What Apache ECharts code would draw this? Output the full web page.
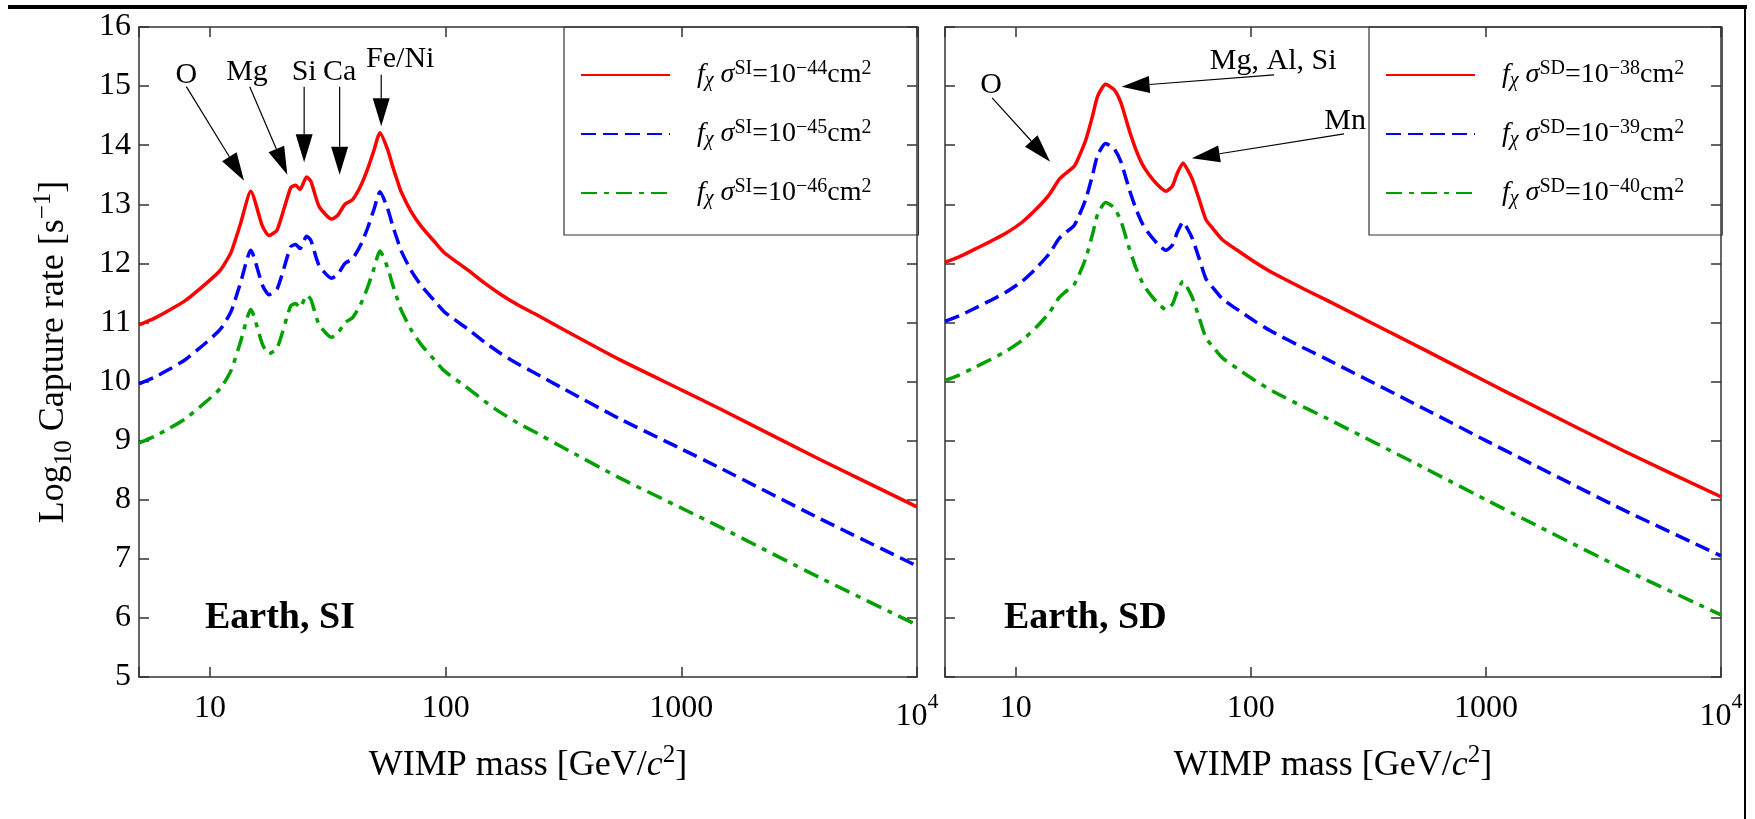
<!DOCTYPE html>
<html>
<head>
<meta charset="utf-8">
<script src="https://cdn.jsdelivr.net/npm/echarts@6/dist/echarts.min.js"></script>
<style>html,body{margin:0;padding:0;background:#fff}#c{width:1755px;height:819px}</style>
</head>
<body>
<div id="c"></div>
<script>
// ---------- DATA ----------
// Left panel: Earth, SI  (WIMP mass in GeV/c^2, log10 capture rate)
const siMass  = [5, 5.8, 6.6, 7.8, 9.7, 11.1, 12.3, 13.5, 14.9, 16.7, 17.8, 19.3, 22.0, 23.1, 24.1, 25.7, 26.8, 29.0, 32.8, 34.8, 37.4, 40.3, 43.6, 46.6, 49.8, 51.4, 52.6, 56.7, 59.6, 62.5, 64.6, 71.3, 78.6, 89.5, 98.7, 124, 146, 172, 202, 238, 316, 547, 1000, 1456, 3873, 10000];
const siRed   = [10.96, 11.07, 11.19, 11.36, 11.67, 11.89, 12.19, 12.68, 13.22, 12.63, 12.47, 12.57, 13.28, 13.32, 13.25, 13.46, 13.39, 12.97, 12.75, 12.81, 13.00, 13.08, 13.31, 13.59, 13.93, 14.12, 14.21, 13.93, 13.64, 13.39, 13.22, 12.88, 12.63, 12.37, 12.18, 11.89, 11.67, 11.47, 11.30, 11.15, 10.88, 10.37, 9.86, 9.54, 8.68, 7.88];
const siBlue  = [9.96, 10.07, 10.19, 10.36, 10.67, 10.89, 11.19, 11.68, 12.22, 11.63, 11.47, 11.57, 12.28, 12.32, 12.25, 12.46, 12.39, 11.97, 11.75, 11.81, 12.00, 12.08, 12.31, 12.59, 12.93, 13.12, 13.21, 12.93, 12.64, 12.39, 12.22, 11.88, 11.63, 11.37, 11.18, 10.89, 10.67, 10.47, 10.30, 10.15, 9.88, 9.37, 8.86, 8.54, 7.68, 6.88];
const siGreen = [8.96, 9.07, 9.19, 9.36, 9.67, 9.89, 10.19, 10.68, 11.22, 10.63, 10.47, 10.57, 11.28, 11.32, 11.25, 11.46, 11.39, 10.97, 10.75, 10.81, 11.00, 11.08, 11.31, 11.59, 11.93, 12.12, 12.21, 11.93, 11.64, 11.39, 11.22, 10.88, 10.63, 10.37, 10.18, 9.89, 9.67, 9.47, 9.30, 9.15, 8.88, 8.37, 7.86, 7.54, 6.68, 5.88];

// Right panel: Earth, SD
const sdMass  = [5, 5.74, 6.54, 7.70, 9.07, 10.67, 12.16, 13.86, 15.28, 16.06, 17.7, 18.6, 19.9, 21.2, 22.3, 24.1, 26.2, 28.0, 30.3, 32.4, 34.6, 36.9, 40.1, 43.5, 46.4, 48.7, 51.5, 53.7, 56.4, 60.3, 64.4, 68.6, 75.7, 89.1, 105, 123.6, 171.4, 205, 546, 1000, 1456, 3882, 10000];
const sdRed   = [12.02, 12.11, 12.22, 12.36, 12.51, 12.70, 12.91, 13.16, 13.42, 13.50, 13.64, 13.81, 14.10, 14.49, 14.83, 15.03, 14.94, 14.72, 14.27, 13.93, 13.67, 13.50, 13.33, 13.22, 13.31, 13.53, 13.70, 13.59, 13.42, 13.08, 12.74, 12.60, 12.40, 12.20, 12.01, 11.84, 11.55, 11.40, 10.54, 10.00, 9.67, 8.82, 8.05];
const sdBlue  = [11.02, 11.11, 11.22, 11.36, 11.51, 11.70, 11.91, 12.16, 12.42, 12.50, 12.64, 12.81, 13.10, 13.49, 13.83, 14.03, 13.94, 13.72, 13.27, 12.93, 12.67, 12.50, 12.33, 12.22, 12.31, 12.53, 12.70, 12.59, 12.42, 12.08, 11.74, 11.60, 11.40, 11.20, 11.01, 10.84, 10.55, 10.40, 9.54, 9.00, 8.67, 7.82, 7.05];
const sdGreen = [10.02, 10.11, 10.22, 10.36, 10.51, 10.70, 10.91, 11.16, 11.42, 11.50, 11.64, 11.81, 12.10, 12.49, 12.83, 13.03, 12.94, 12.72, 12.27, 11.93, 11.67, 11.50, 11.33, 11.22, 11.31, 11.53, 11.70, 11.59, 11.42, 11.08, 10.74, 10.60, 10.40, 10.20, 10.01, 9.84, 9.55, 9.40, 8.54, 8.00, 7.67, 6.82, 6.05];

// Axis ticks
const xTickValues = [10, 100, 1000, 10000];
const xTickLabels = ['{m|10}', '{m|100}', '{m|1000}', '{n|10}{sup|4}'];
const yMin = 5, yMax = 16, yStep = 1;

// Legend labels (exponents)
const siNames = ['si44', 'si45', 'si46'];
const siExp   = ['−44', '−45', '−46'];
const sdNames = ['sd38', 'sd39', 'sd40'];
const sdExp   = ['−38', '−39', '−40'];

// Annotations: text, label anchor, arrow start, arrow tip (mass, log rate)
const siNoteText  = ['O', 'Mg', 'Si', 'Ca', 'Fe/Ni'];
const siNoteLabel = [[7.94, 15.19], [14.36, 15.23], [25.1, 15.23], [35.5, 15.23], [64.2, 15.46]];
const siNoteFrom  = [[7.94, 14.99], [14.75, 14.99], [25.1, 14.99], [35.5, 14.99], [53.3, 15.19]];
const siNoteTo    = [[13.95, 13.40], [21.3, 13.50], [25.1, 13.71], [35.5, 13.50], [53.3, 14.32]];
const sdNoteText  = ['O', 'Mg, Al, Si', 'Mn'];
const sdNoteLabel = [[7.85, 15.01], [124.5, 15.42], [252, 14.40]];
const sdNoteFrom  = [[7.93, 14.80], [125.6, 15.19], [249, 14.19]];
const sdNoteTo    = [[14.0, 13.72], [28.2, 14.99], [56.1, 13.78]];

// ---------- CHART ----------
const FONT = '"Liberation Serif", "DejaVu Serif", serif';
const RED = '#ff0000', BLUE = '#0000ff', GREEN = '#00a000';
const AX = '#333333';
const DASH = [15, 7];
const DASHDOT = [16, 7, 5, 7];

function pairs(xs, ys) { return xs.map((x, i) => [x, ys[i]]); }

function lineSeries(name, xs, ys, color, type, gi) {
  return {
    name: name, type: 'line', xAxisIndex: gi * 2, yAxisIndex: gi * 2,
    data: pairs(xs, ys), symbol: 'none', showSymbol: false, smooth: 0.2,
    lineStyle: { color: color, width: 3.5, type: type, cap: 'butt' },
    itemStyle: { color: color }, z: 3, silent: true, animation: false
  };
}

function noteSeries(gi, text, lab, from, to) {
  const data = text.map((t, i) => [lab[i][0], lab[i][1], from[i][0], from[i][1], to[i][0], to[i][1]]);
  return {
    type: 'custom', xAxisIndex: gi * 2, yAxisIndex: gi * 2, silent: true, animation: false, z: 5,
    encode: { x: [0, 2, 4], y: [1, 3, 5] },
    data: data,
    renderItem: function (params, api) {
      const i = params.dataIndex;
      const L = api.coord([api.value(0), api.value(1)]);
      const F = api.coord([api.value(2), api.value(3)]);
      const T = api.coord([api.value(4), api.value(5)]);
      const dx = T[0] - F[0], dy = T[1] - F[1];
      const len = Math.hypot(dx, dy) || 1;
      const ux = dx / len, uy = dy / len;
      const headLen = 28, hw = 8.5;
      const B = [T[0] - ux * headLen, T[1] - uy * headLen];
      const p1 = [B[0] - uy * hw, B[1] + ux * hw];
      const p2 = [B[0] + uy * hw, B[1] - ux * hw];
      return {
        type: 'group',
        children: [
          { type: 'line', shape: { x1: F[0], y1: F[1], x2: B[0], y2: B[1] }, style: { stroke: '#000', lineWidth: 1.2 } },
          { type: 'polygon', shape: { points: [T, p1, p2] }, style: { fill: '#000' } },
          { type: 'text', x: L[0], y: L[1], style: { text: text[i], fill: '#000', fontSize: 30, fontFamily: FONT, align: 'center', verticalAlign: 'middle' } }
        ]
      };
    }
  };
}

const tickLbl = {
  fontSize: 32, fontFamily: FONT, color: '#000', margin: 14,
  rich: {
    m: { fontSize: 32, fontFamily: FONT, lineHeight: 34, verticalAlign: 'bottom', color: '#000' },
    n: { fontSize: 32, fontFamily: FONT, lineHeight: 42, verticalAlign: 'bottom', color: '#000' },
    sup: { fontSize: 22, fontFamily: FONT, lineHeight: 42, verticalAlign: 'top', color: '#000' }
  },
  formatter: function (v) {
    for (let k = 0; k < xTickValues.length; k++) {
      if (Math.abs(Math.log10(v) - Math.log10(xTickValues[k])) < 1e-6) return xTickLabels[k];
    }
    return '';
  },
  hideOverlap: false
};

const nameRich = {
  n: { fontSize: 36, fontFamily: FONT, lineHeight: 46, verticalAlign: 'middle', color: '#000' },
  i: { fontSize: 36, fontFamily: FONT, fontStyle: 'italic', lineHeight: 46, verticalAlign: 'middle', color: '#000' },
  sub: { fontSize: 25, fontFamily: FONT, lineHeight: 46, verticalAlign: 'bottom', color: '#000' },
  sup: { fontSize: 25, fontFamily: FONT, lineHeight: 46, verticalAlign: 'top', color: '#000' }
};

function xAx(gi, pos, showLabel) {
  const a = {
    gridIndex: gi, type: 'log', logBase: 10, min: 5, max: 10000, position: pos,
    axisLine: { show: true, onZero: false, lineStyle: { color: AX, width: 1.5 } },
    axisTick: { show: true, inside: true, length: 10, lineStyle: { color: AX, width: 1.5 } },
    minorTick: { show: false }, splitLine: { show: false },
    axisLabel: showLabel ? tickLbl : { show: false }
  };
  if (showLabel) {
    a.name = '{n|WIMP mass [GeV/}{i|c}{sup|2}{n|]}';
    a.nameLocation = 'middle';
    a.nameGap = 66;
    a.nameMoveOverlap = false;
    a.nameTextStyle = { fontSize: 36, fontFamily: FONT, color: '#000', rich: nameRich };
  }
  return a;
}

function yAx(gi, pos, showLabel) {
  const a = {
    gridIndex: gi, type: 'value', min: yMin, max: yMax, interval: yStep, position: pos,
    axisLine: { show: true, onZero: false, lineStyle: { color: AX, width: 1.5 } },
    axisTick: { show: true, inside: true, length: 10, lineStyle: { color: AX, width: 1.5 } },
    splitLine: { show: false },
    axisLabel: showLabel ? { fontSize: 32, fontFamily: FONT, color: '#000', margin: 8 } : { show: false }
  };
  if (showLabel) {
    a.name = '{n|Log}{sub|10}{n| Capture rate [s}{sup|−1}{n|]}';
    a.nameLocation = 'middle';
    a.nameGap = 62;
    a.nameMoveOverlap = false;
    a.nameTextStyle = { fontSize: 36, fontFamily: FONT, color: '#000', rich: nameRich };
  }
  return a;
}

const legendRich = {
  n: { fontSize: 28, fontFamily: FONT, lineHeight: 32, verticalAlign: 'middle', color: '#000' },
  i: { fontSize: 28, fontFamily: FONT, fontStyle: 'italic', lineHeight: 32, verticalAlign: 'middle', color: '#000' },
  sub: { fontSize: 20, fontFamily: FONT, fontStyle: 'italic', lineHeight: 32, verticalAlign: 'bottom', color: '#000' },
  sup: { fontSize: 20, fontFamily: FONT, lineHeight: 32, verticalAlign: 'top', color: '#000' }
};

function legendCfg(names, exps, kind, left, padRight) {
  return {
    show: true, data: names, orient: 'vertical', left: left, top: 27,
    padding: [32, padRight, 26, 16], itemGap: 27, itemWidth: 89, itemHeight: 14,
    borderColor: AX, borderWidth: 1.2, backgroundColor: 'transparent',
    selectedMode: false,
    itemStyle: { color: 'transparent', borderColor: 'transparent', borderWidth: 0, opacity: 0 },
    formatter: function (name) {
      const k = names.indexOf(name);
      return '{i|f}{sub|χ}{i| σ}{sup|' + kind + '}{n|=10}{sup|' + exps[k] + '}{n|cm}{sup|2}';
    },
    textStyle: { fontSize: 28, fontFamily: FONT, color: '#000', padding: [0, 0, 0, 22], rich: legendRich }
  };
}

const chart = echarts.init(document.getElementById('c'), null, { renderer: 'canvas' });
chart.setOption({
  animation: false,
  backgroundColor: '#ffffff',
  textStyle: { fontFamily: FONT },
  grid: [
    { left: 139, top: 27, width: 778, height: 650, containLabel: false, outerBoundsMode: 'none' },
    { left: 945, top: 27, width: 776, height: 650, containLabel: false, outerBoundsMode: 'none' }
  ],
  xAxis: [xAx(0, 'bottom', true), xAx(0, 'top', false), xAx(1, 'bottom', true), xAx(1, 'top', false)],
  yAxis: [yAx(0, 'left', true), yAx(0, 'right', false), yAx(1, 'left', false), yAx(1, 'right', false)],
  legend: [legendCfg(siNames, siExp, 'SI', 564, 47), legendCfg(sdNames, sdExp, 'SD', 1369, 38)],
  title: [
    { text: 'Earth, SI', left: 205, top: 598, padding: 0, textStyle: { fontFamily: FONT, fontWeight: 'bold', fontSize: 38, lineHeight: 40, color: '#000' } },
    { text: 'Earth, SD', left: 1004, top: 598, padding: 0, textStyle: { fontFamily: FONT, fontWeight: 'bold', fontSize: 38, lineHeight: 40, color: '#000' } }
  ],
  graphic: [
    { type: 'rect', shape: { x: 8, y: 5, width: 1739, height: 4 }, style: { fill: '#000' }, silent: true },
    { type: 'rect', shape: { x: 1744, y: 5, width: 2, height: 814 }, style: { fill: '#000' }, silent: true }
  ],
  series: [
    lineSeries('si44', siMass, siRed, RED, 'solid', 0),
    lineSeries('si45', siMass, siBlue, BLUE, DASH, 0),
    lineSeries('si46', siMass, siGreen, GREEN, DASHDOT, 0),
    lineSeries('sd38', sdMass, sdRed, RED, 'solid', 1),
    lineSeries('sd39', sdMass, sdBlue, BLUE, DASH, 1),
    lineSeries('sd40', sdMass, sdGreen, GREEN, DASHDOT, 1),
    noteSeries(0, siNoteText, siNoteLabel, siNoteFrom, siNoteTo),
    noteSeries(1, sdNoteText, sdNoteLabel, sdNoteFrom, sdNoteTo)
  ]
});
</script>
</body>
</html>
